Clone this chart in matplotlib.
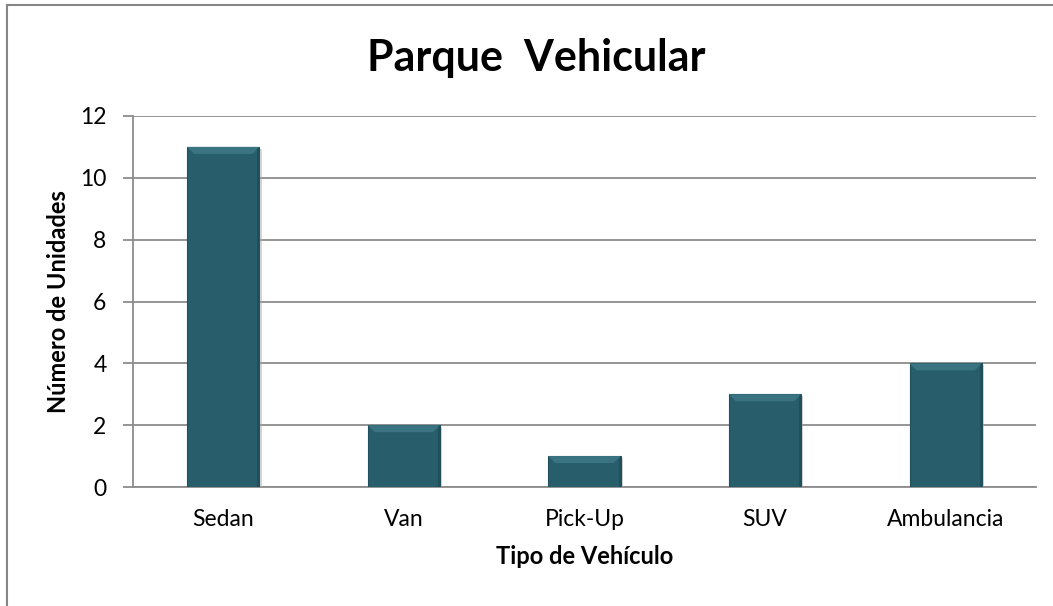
import matplotlib
matplotlib.use('Agg')
import matplotlib.pyplot as plt
from matplotlib.patches import Polygon
from matplotlib.lines import Line2D
import matplotlib.patheffects as pe

categorias = ['Sedan', 'Van', 'Pick-Up', 'SUV', 'Ambulancia']
unidades = [11, 2, 1, 3, 4]
yticks = [0, 2, 4, 6, 8, 10, 12]

plt.rcParams['font.family'] = ['Lato', 'DejaVu Sans']
gris = '#8c8c8c'
cara = '#285e6c'

fig = plt.figure(figsize=(10.53, 6.06), dpi=100)
ax = fig.add_axes([133/1053, 1-487/606, (1036-133)/1053, (487-116)/606])

x = list(range(len(categorias)))
bars = ax.bar(x, unidades, width=0.4, color=cara, edgecolor='#214f5b', linewidth=0.8, zorder=3,
              path_effects=[pe.SimplePatchShadow(offset=(1.5, -1.5), shadow_rgbFace='#b0b0b0', alpha=0.5), pe.Normal()])

ax.set_xlim(-0.5, len(categorias)-0.5)
ax.set_ylim(0, 12)
ax.set_yticks(yticks)
ax.set_yticklabels([str(v) for v in yticks], fontsize=16.5)
ax.set_xticks(x)
ax.set_xticklabels(categorias, fontsize=16.5)
ax.tick_params(axis='x', length=0, pad=16)
ax.tick_params(axis='y', length=7, width=1.3, color=gris, pad=12)
ax.yaxis.grid(True, color=gris, linewidth=1.3, zorder=0)
ax.set_axisbelow(True)
for s in ['top', 'right']:
    ax.spines[s].set_visible(False)
ax.spines['left'].set_color(gris)
ax.spines['bottom'].set_color(gris)
ax.spines['left'].set_linewidth(1.3)
ax.spines['bottom'].set_linewidth(1.3)

ax.set_xlabel('Tipo de Vehículo', fontsize=17, fontweight='bold', labelpad=11)
ax.set_ylabel('Número de Unidades', fontsize=17, fontweight='bold', labelpad=7)
fig.text(536/1053, 1-58/606, 'Parque  Vehicular', ha='center', va='center', fontsize=31, fontweight='bold')

# bevel on top of each bar, built from the bar geometry in pixels
fig.canvas.draw()
for b in bars:
    bb = b.get_window_extent()
    d = 7
    top = Polygon([(bb.x0, bb.y1), (bb.x1, bb.y1), (bb.x1-d, bb.y1-d), (bb.x0+d, bb.y1-d)],
                  closed=True, transform=None, facecolor='#3a7482', edgecolor='none', zorder=4)
    fig.patches.append(top)
    lado = Polygon([(bb.x1, bb.y1), (bb.x1, bb.y0), (bb.x1-2, bb.y0), (bb.x1-2, bb.y1-2)],
                   closed=True, transform=None, facecolor='#214f5b', edgecolor='none', zorder=4)
    fig.patches.append(lado)

# outer chart border (cut at right and bottom)
fig.add_artist(Line2D([7/1053, 1.0], [1-5/606, 1-5/606], transform=fig.transFigure, color='#868686', linewidth=1.5))
fig.add_artist(Line2D([7/1053, 7/1053], [0.0, 1-5/606], transform=fig.transFigure, color='#868686', linewidth=1.5))

fig.savefig('out.png', dpi=100)
